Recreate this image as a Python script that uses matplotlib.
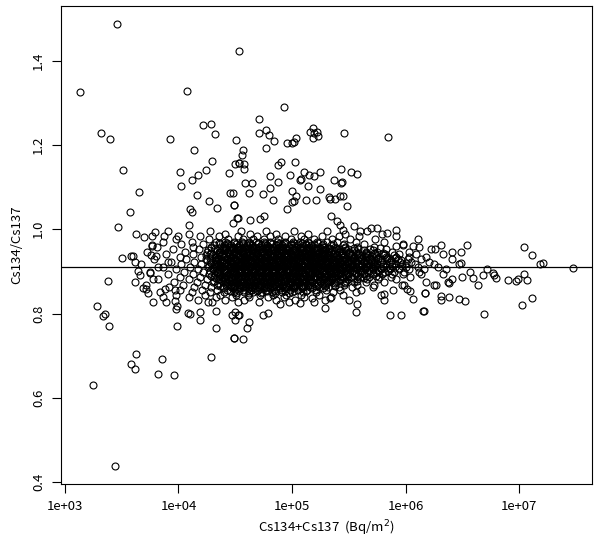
import numpy as np
import matplotlib
matplotlib.use("Agg")
import matplotlib.pyplot as plt

plt.rcParams['font.family'] = ['Noto Sans CJK JP', 'DejaVu Sans']

# scattered points read one by one: log10(Cs134+Cs137), Cs134/Cs137
out_logx = [3.455, 3.132, 4.072, 4.536, 3.32, 3.394, 3.928, 4.216, 4.284, 4.319, 4.509,
            4.137, 3.508, 4.298, 4.01, 4.24, 4.172, 4.116, 4.022, 4.442, 4.495, 4.533,
            3.655, 4.163, 4.45, 4.483, 4.271, 4.104, 4.116, 4.336, 4.492, 3.576, 3.47,
            4.095, 4.477, 4.512, 3.623, 3.699, 3.796, 3.87, 3.993, 3.764,
            4.932, 4.706, 4.709, 4.768, 4.795, 4.841, 4.771, 4.567, 4.556, 4.535, 4.58,
            4.577, 4.959, 4.997, 5.015, 5.038, 5.159, 5.182, 5.218, 5.232, 5.185, 5.196,
            5.458, 5.846, 4.873, 4.903, 5.026, 4.806, 4.985, 5.103, 5.152, 5.196, 5.247,
            5.434, 5.517, 5.573, 4.586, 4.65, 4.873, 5.07, 5.079, 5.137, 5.373, 5.432,
            5.443, 4.624, 4.744, 4.806, 4.833, 5.003, 5.035, 5.0, 5.018, 5.12, 5.211,
            5.244, 5.323, 5.332, 5.381, 5.426, 5.452, 5.485, 4.489, 4.956, 4.715, 4.756,
            5.344, 5.399, 5.423, 5.452, 5.55, 5.597, 5.693, 5.749, 5.834, 5.913, 4.627,
            4.524,
            7.047, 7.117, 7.185, 7.209, 7.473, 6.542, 6.31, 6.407, 6.489, 6.225, 6.715,
            6.686, 6.771, 6.78, 6.797, 6.639, 6.906, 6.977, 6.989, 7.044, 7.068, 7.115,
            7.024, 6.694, 6.471, 6.527, 6.38, 6.31, 6.313, 6.169, 6.16, 6.254, 6.266,
            6.38, 6.598, 6.568, 6.498, 6.486, 6.41, 6.377,
            3.44, 3.247, 3.579, 3.614, 3.628, 3.855, 3.819, 3.96, 4.284, 3.279, 3.335,
            3.355, 3.385, 3.379, 3.987, 4.328, 4.489, 3.502, 3.579, 3.596, 3.617, 3.64,
            3.66, 3.617, 3.69, 3.714, 3.734, 3.764, 3.802, 3.758, 3.778, 3.866, 3.89,
            3.878, 3.778, 3.966, 3.969, 3.987, 3.981, 4.084, 4.101, 4.192, 4.192, 4.333,
            4.298, 4.468, 4.498, 4.527, 3.749, 3.822, 3.91,
            4.489, 4.566, 4.606, 4.621, 4.53, 4.5, 4.741, 4.789, 5.291, 5.561, 5.57,
            5.863, 5.958, 6.157, 6.172, 5.81, 5.81, 5.966, 6.04, 6.069, 6.01, 4.894,
            5.07, 5.173, 5.335, 5.5, 5.92, 5.98, 6.069, 5.773]
out_ratio = [1.486, 1.326, 1.329, 1.422, 1.228, 1.214, 1.214, 1.247, 1.251, 1.227, 1.213,
             1.187, 1.140, 1.162, 1.137, 1.141, 1.130, 1.117, 1.103, 1.134, 1.156, 1.158,
             1.088, 1.082, 1.087, 1.085, 1.066, 1.048, 1.040, 1.051, 1.057, 1.040, 1.005,
             1.010, 1.016, 1.026, 0.988, 0.981, 0.993, 0.984, 0.984, 0.963,
             1.289, 1.261, 1.228, 1.236, 1.224, 1.209, 1.193, 1.189, 1.176, 1.157, 1.154,
             1.143, 1.205, 1.205, 1.208, 1.216, 1.231, 1.240, 1.230, 1.222, 1.217, 1.228,
             1.228, 1.220, 1.153, 1.159, 1.160, 1.127, 1.130, 1.136, 1.129, 1.126, 1.137,
             1.144, 1.137, 1.132, 1.110, 1.111, 1.113, 1.117, 1.119, 1.103, 1.117, 1.110,
             1.113, 1.087, 1.084, 1.099, 1.070, 1.091, 1.078, 1.064, 1.066, 1.070, 1.069,
             1.096, 1.077, 1.071, 1.071, 1.078, 1.079, 1.056, 1.058, 1.047, 1.025, 1.031,
             1.032, 1.019, 1.010, 0.998, 1.009, 0.996, 1.004, 1.004, 0.992, 0.998, 1.022,
             1.027,
             0.959, 0.940, 0.918, 0.921, 0.907, 0.962, 0.962, 0.945, 0.945, 0.954, 0.906,
             0.892, 0.896, 0.892, 0.884, 0.869, 0.880, 0.877, 0.883, 0.893, 0.880, 0.837,
             0.821, 0.800, 0.834, 0.830, 0.839, 0.842, 0.832, 0.848, 0.805, 0.868, 0.868,
             0.872, 0.885, 0.899, 0.887, 0.919, 0.882, 0.874,
             0.439, 0.631, 0.680, 0.668, 0.705, 0.692, 0.656, 0.654, 0.696, 0.819, 0.795,
             0.798, 0.771, 0.877, 0.771, 0.766, 0.741, 0.933, 0.936, 0.936, 0.922, 0.902,
             0.891, 0.876, 0.860, 0.858, 0.848, 0.961, 0.937, 0.940, 0.828, 0.840, 0.828,
             0.858, 0.881, 0.856, 0.830, 0.819, 0.811, 0.802, 0.799, 0.804, 0.785, 0.806,
             0.828, 0.797, 0.785, 0.797, 0.896, 0.911, 0.923,
             0.741, 0.739, 0.767, 0.781, 0.796, 0.804, 0.797, 0.802, 0.814, 0.803, 0.822,
             0.797, 0.797, 0.807, 0.848, 0.832, 0.847, 0.867, 0.853, 0.834, 0.858, 0.823,
             0.825, 0.836, 0.836, 0.832, 0.961, 0.963, 0.961, 0.955]

# the dense cloud, read row by row: ratio -> log10(total) in hundredths
cloud_ratio = [0.995, 0.989, 0.983, 0.977, 0.971, 0.965, 0.959, 0.953, 0.947, 0.941,
               0.935, 0.929, 0.923, 0.917, 0.911, 0.905, 0.899, 0.893, 0.887, 0.881,
               0.875, 0.869, 0.863, 0.857, 0.851, 0.845, 0.839, 0.833, 0.827]
cloud_logx = [
    "391 428 455 477 502 531 566",
    "409 441 463 486 514 547 579",
    "377 419 436 452 469 481 494 508 526 541 559 592",
    "398 427 444 457 466 475 488 499 511 519 535 551 573 611",
    "386 412 433 441 449 456 462 468 475 481 487 494 501 507 514 522 531 540 556 581",
    "402 422 437 444 451 457 463 470 476 482 488 493 499 505 512 519 527 536 546 563 598",
    "381 413 429 439 446 452 459 465 471 477 483 489 495 502 508 515 522 529 538 547 557 572 612",
    "395 418 432 441 448 454 460 466 472 478 484 490 496 502 508 513 519 526 533 541 549 558 569 583 626",
    "372 406 425 436 443 449 455 461 467 473 479 485 491 497 503 509 515 521 527 534 541 548 556 565 575 588 603",
    "389 413 428 438 445 451 457 463 469 475 481 487 493 499 505 511 517 523 529 536 543 550 557 565 573 582 594 609 633",
    "401 420 432 441 448 454 460 466 472 478 484 490 496 502 508 514 520 526 532 538 545 552 559 566 574 583 592 603 618",
    "378 407 424 435 443 450 456 462 468 474 480 486 492 498 504 510 516 522 528 534 540 547 554 561 568 576 584 593 602 614 641",
    "393 414 428 438 445 452 458 464 470 476 482 488 494 500 506 512 518 524 530 536 542 549 556 563 570 578 586 595 605 621",
    "367 402 420 432 441 448 454 460 466 472 478 484 490 496 502 508 514 520 526 532 538 544 551 558 565 572 580 588 597 608 625 647",
    "386 410 426 437 445 451 457 463 469 475 481 487 493 499 505 511 517 523 529 535 541 547 554 561 568 575 583 591 600 611 629",
    "398 417 430 440 447 453 459 465 471 477 483 489 495 501 507 513 519 525 531 537 543 550 557 564 571 578 586 594 603 616 636",
    "375 405 422 434 442 449 455 461 467 473 479 485 491 497 503 509 515 521 527 533 539 546 553 560 567 574 582 590 599 612",
    "391 413 427 437 445 451 457 463 469 475 481 487 493 499 505 511 517 523 529 535 542 549 556 563 571 579 588 598 614 633",
    "401 419 431 440 447 453 459 465 471 477 483 489 495 501 507 513 519 525 531 538 545 552 560 568 577 587 604",
    "382 409 425 436 444 450 456 462 468 474 480 486 492 498 504 510 516 522 528 535 542 549 557 566 576 592",
    "396 416 430 439 446 452 458 464 470 476 482 488 494 500 506 512 518 525 532 539 547 555 565 581 618",
    "371 404 423 434 442 449 455 461 467 473 479 485 491 497 503 509 516 523 530 538 546 557 572 599",
    "392 414 429 439 446 453 459 465 471 477 483 489 495 502 509 516 524 532 541 553 571",
    "401 421 434 443 450 457 464 470 477 484 491 498 505 513 521 530 542 561 589",
    "384 412 428 440 449 458 466 474 482 491 500 510 521 536 556",
    "398 423 437 451 461 472 483 495 508 524 545 578",
    "409 433 447 462 479 493 511 534",
    "417 441 458 486 503 529",
    "426 452 471 497 519",
]

# second pass over the black core, between the rows above
core_ratio = [0.968, 0.962, 0.956, 0.950, 0.944, 0.938, 0.932, 0.926, 0.920, 0.914,
              0.908, 0.902, 0.896, 0.890, 0.884, 0.878, 0.872, 0.866, 0.860, 0.854, 0.848]
core_logx = [
    "436 443 449 457 462 470 476 481 489 494 502 509 515 523",
    "431 440 446 453 460 465 473 478 486 491 499 504 512 517 526 534 545",
    "429 437 442 450 456 463 468 476 481 488 495 500 507 513 520 525 533 539 547 555",
    "426 434 441 446 453 459 466 471 479 484 491 497 503 510 515 522 528 535 540 548 555 563 571",
    "429 436 444 449 457 462 469 474 482 487 494 499 506 513 518 526 531 538 544 551 558 565 572 580",
    "424 432 439 445 452 458 463 470 475 483 488 495 500 507 514 519 527 532 540 545 552 559 566 574 581 590",
    "428 435 443 448 455 460 467 473 479 486 491 497 504 509 517 523 529 536 541 548 555 562 569 576 584 591",
    "425 433 440 446 451 458 464 469 477 482 489 494 502 507 513 520 526 533 538 545 551 558 565 572 579 587 596",
    "429 437 442 449 455 461 468 473 480 485 492 498 505 511 516 524 529 536 542 549 556 561 568 575 583 591 600",
    "427 434 440 447 452 459 465 471 476 484 489 496 501 509 514 521 527 534 539 546 553 559 566 573 580 588 597",
    "430 438 445 450 457 463 468 475 481 487 492 500 505 512 518 523 531 537 544 550 557 564 571 578 586 594",
    "428 435 441 448 454 459 466 472 478 483 490 496 503 508 515 520 528 533 540 547 554 561 568 576 585",
    "431 439 446 451 458 464 469 476 482 488 493 500 506 511 518 524 530 537 542 549 556 563 571 580",
    "429 436 442 449 455 461 467 474 479 486 491 498 503 510 516 521 529 535 542 549 557 565 574",
    "433 440 446 452 459 464 471 476 483 488 495 500 507 513 520 526 533 539 546 554 563",
    "431 438 445 451 457 463 469 475 481 487 493 499 505 512 518 525 532 540 548 557",
    "435 442 448 455 460 467 473 478 485 490 497 503 510 516 523 530 538 547",
    "437 445 450 457 463 470 475 482 488 495 501 508 514 521 529 538",
    "440 448 454 462 467 475 481 489 494 502 509 518 527",
    "445 453 462 469 478 485 494 502 512",
    "451 462 473 485 497",
]

# third pass over the darkest middle of the core
mid_ratio = [0.958, 0.952, 0.946, 0.940, 0.934, 0.928, 0.922, 0.916, 0.910, 0.904,
             0.898, 0.892, 0.886, 0.880, 0.874, 0.868, 0.862]
mid_logx = [
    "441 448 454 461 467 474 479 486 492 497 504 510 518 527",
    "439 445 452 457 464 470 477 483 489 495 501 507 514 521 529 537",
    "437 443 450 456 461 468 474 480 485 492 498 505 511 517 524 532 541 550",
    "435 442 448 454 460 465 472 478 484 490 496 502 508 515 521 528 536 544 553 562",
    "433 440 446 453 458 464 470 476 482 488 494 500 506 512 519 525 531 538 546 555 565",
    "432 438 445 451 457 463 469 475 481 487 493 499 505 511 517 523 530 537 544 552 561 570",
    "434 440 447 453 459 465 471 477 483 489 495 501 507 513 519 526 532 539 547 554 563 572",
    "431 437 444 450 456 462 468 474 480 486 492 498 504 510 517 523 530 537 545 553 562 571",
    "433 439 446 452 458 464 470 476 482 488 494 500 506 513 519 526 533 540 548 556 565",
    "436 442 449 455 461 467 473 479 485 491 497 503 509 515 522 529 536 543 551 560",
    "434 440 447 453 459 465 471 477 483 489 495 501 507 514 520 527 534 542 551",
    "437 443 450 456 462 468 474 480 486 492 498 504 510 517 524 531 539 548",
    "439 446 452 458 464 470 476 482 488 494 500 507 513 520 528 536 545",
    "441 447 454 460 466 472 478 484 490 496 503 509 516 524 533",
    "443 450 456 462 468 475 481 487 494 500 507 514 522 531",
    "446 453 459 466 472 479 485 492 499 506 514 523",
    "449 457 464 471 478 486 493 501 510",
]

ref_ratio = 0.911
xticks = [1e3, 1e4, 1e5, 1e6, 1e7]
xticklabels = ["1e+03", "1e+04", "1e+05", "1e+06", "1e+07"]
yticks = [0.4, 0.6, 0.8, 1.0, 1.2, 1.4]

cx, cy = [], []
for ratios, rows in [(cloud_ratio, cloud_logx), (core_ratio, core_logx), (mid_ratio, mid_logx)]:
    for r, row in zip(ratios, rows):
        for v in row.split():
            cx.append(int(v) / 100)
            cy.append(r)

all_x = 10 ** np.array(out_logx + cx)
all_y = np.array(out_ratio + cy)

fig = plt.figure(figsize=(5.99, 5.44), dpi=100)
ax = fig.add_axes([61 / 599, 1 - 484 / 544, 531 / 599, 478 / 544])

ax.plot(all_x, all_y, 'o', mfc='none', mec='black', ms=5.0, mew=0.8, ls='none')
ax.axhline(ref_ratio, color='black', lw=0.9)

ax.set_xscale('log')
ax.set_xlim(10 ** 2.965, 10 ** 7.643)
ax.set_ylim(0.3957, 1.5298)
ax.set_xticks(xticks)
ax.set_xticklabels(xticklabels)
ax.minorticks_off()
ax.set_yticks(yticks)
ax.set_yticklabels(["0.4", "0.6", "0.8", "1.0", "1.2", "1.4"], rotation=90, va='center')

ax.tick_params(direction='out', length=6.5, width=0.8, labelsize=9.5, pad=5)
for s in ax.spines.values():
    s.set_linewidth(0.8)

ax.set_xlabel("Cs134+Cs137  (Bq/m$^2$)", fontsize=9.5, labelpad=4)
ax.set_ylabel("Cs134/Cs137", fontsize=9.5, labelpad=6)

fig.savefig("out.png", dpi=100)
